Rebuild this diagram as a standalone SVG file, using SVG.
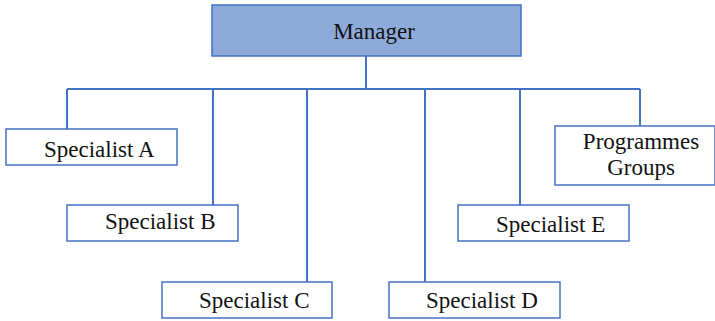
<svg xmlns="http://www.w3.org/2000/svg" width="715" height="321" viewBox="0 0 715 321">
<style>
.box{fill:#ffffff;stroke:#4472c4;stroke-width:1.5}
.mgr{fill:#8eaadb;stroke:#4472c4;stroke-width:1.5}
.lbl{font-family:"Liberation Serif","Times New Roman",serif;font-size:23px;fill:#111111}
.conn{fill:none;stroke:#4472c4;stroke-width:2}
</style>
<rect width="715" height="321" fill="#ffffff"/>
<g id="connectors">
<path class="conn" d="M366,56 V89 M67,89 H640 M67,89 V129 M213,89 V205 M307,89 V282 M425,89 V282 M520,89 V205 M640,89 V126"/>
</g>
<g id="manager"><rect class="mgr" x="212" y="5" width="309" height="51"/><text class="lbl" x="374" y="39" text-anchor="middle">Manager</text></g>
<g id="specA"><rect class="box" x="6" y="129" width="171" height="36"/><text class="lbl" x="44" y="157">Specialist A</text></g>
<g id="specB"><rect class="box" x="67" y="205" width="171" height="36"/><text class="lbl" x="105" y="229">Specialist B</text></g>
<g id="specC"><rect class="box" x="162" y="282" width="170" height="36"/><text class="lbl" x="199" y="308">Specialist C</text></g>
<g id="specD"><rect class="box" x="389" y="282" width="171" height="36"/><text class="lbl" x="426" y="308">Specialist D</text></g>
<g id="specE"><rect class="box" x="458" y="205" width="171" height="36"/><text class="lbl" x="496" y="232">Specialist E</text></g>
<g id="progGroups"><rect class="box" x="555" y="126" width="160" height="59"/><text class="lbl" x="641" y="149" text-anchor="middle">Programmes</text><text class="lbl" x="641" y="175" text-anchor="middle">Groups</text></g>
</svg>
